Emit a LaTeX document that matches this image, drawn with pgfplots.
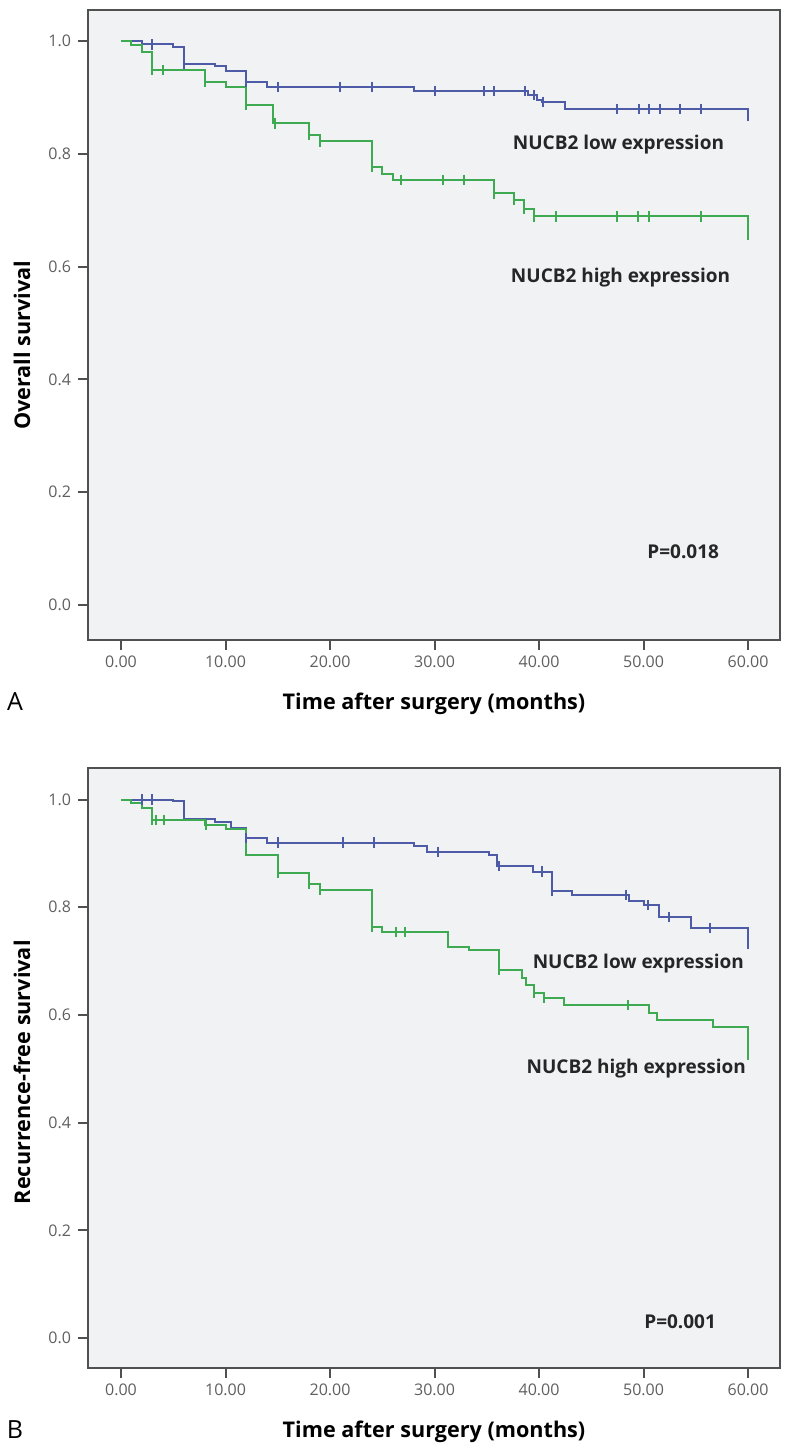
\documentclass[border=0pt]{standalone}
\usepackage{fontspec}
\setmainfont{Open Sans}
\usepackage{pgfplots}
\pgfplotsset{compat=1.18}
\definecolor{kmblue}{RGB}{78,92,168}
\definecolor{kmgreen}{RGB}{62,170,82}
\definecolor{framegray}{RGB}{80,80,80}
\definecolor{bggray}{RGB}{241,242,244}
\definecolor{tickgray}{RGB}{95,95,95}
\tikzset{annot/.style={font=\bfseries\fontsize{9.5}{11}\selectfont, text=black!85}}
\pgfplotsset{
  kmstyle/.style={
    scale only axis, width=346pt,
    xmin=-3.16, xmax=63.06,
    axis background/.style={fill=bggray},
    axis line style={framegray, line width=1.1pt},
    xtick={0,10,20,30,40,50,60}, ytick={0,0.2,0.4,0.6,0.8,1.0},
    xtick pos=left, ytick pos=left,
    tick align=outside, major tick length=5pt,
    tick style={framegray, line width=1pt},
    /pgf/number format/assume math mode=true,
    xticklabel={\pgfmathprintnumber[fixed,fixed zerofill,precision=2]{\tick}},
    yticklabel={\pgfmathprintnumber[fixed,fixed zerofill,precision=1]{\tick}},
    ticklabel style={font=\fontsize{8}{9}\selectfont, text=tickgray},
    xticklabel style={anchor=center, yshift=-6pt},
    yticklabel style={anchor=east},
    label style={font=\bfseries\fontsize{10.8}{12}\selectfont},
  },
  kmline/.style={const plot, line width=1pt, mark=none},
  kmcens/.style={only marks, mark=|, mark size=2.6pt, mark options={line width=1pt}},
}
\begin{document}
\begin{tikzpicture}
\useasboundingbox (0,0) rectangle (400pt,-724pt);
% ---------------- Panel A ----------------
\begin{axis}[kmstyle, at={(44pt,-320pt)}, anchor=south west, height=315pt,
  ymin=-0.062, ymax=1.055,
  xlabel={Time after surgery (months)},
  xlabel style={at={(axis description cs:0.5,0)}, anchor=center, yshift=-32pt},
  ylabel={Overall survival},
  ylabel style={at={(axis description cs:-0.0954,0.468)}, anchor=center},
]
\addplot[kmline, kmblue] coordinates {
(0,1.000) (2,0.994) (5,0.990) (6,0.960) (9,0.956) (10,0.946) (12,0.928) (14,0.919)
(28,0.911) (38.9,0.904) (39.8,0.895) (40.3,0.892) (42.5,0.880) (60,0.880) (60,0.867)};
\addplot[kmcens, kmblue] coordinates {
(3,0.994) (6,0.960) (12,0.928) (15,0.919) (21,0.919) (24,0.919) (30,0.911) (34.7,0.911)
(35.7,0.911) (38.7,0.911) (39.5,0.904) (40.4,0.892) (47.5,0.880) (49.6,0.880) (50.5,0.880)
(51.6,0.880) (53.5,0.880) (55.5,0.880) (60,0.867)};
\addplot[kmline, kmgreen] coordinates {
(0,1.000) (1,0.993) (2,0.981) (3,0.949) (8,0.928) (10,0.919) (12,0.887) (14.5,0.854)
(18,0.833) (19,0.822) (24,0.777) (25,0.765) (26,0.754) (35.7,0.730) (37.6,0.718)
(38.6,0.703) (39.5,0.689) (60,0.689) (60,0.656)};
\addplot[kmcens, kmgreen] coordinates {
(3,0.949) (4,0.949) (8,0.928) (12,0.887) (14.7,0.854) (18,0.833) (19,0.822) (24,0.777)
(26.8,0.754) (30.8,0.754) (32.8,0.754) (35.7,0.730) (37.6,0.718) (38.6,0.703) (39.5,0.689)
(41.6,0.689) (47.5,0.689) (49.5,0.689) (50.5,0.689) (55.5,0.689) (60,0.656)};
\node[annot] at (axis cs:47.6,0.816) {NUCB2 low expression};
\node[annot] at (axis cs:47.8,0.580) {NUCB2 high expression};
\node[annot] at (axis cs:53.8,0.094) {P=0.018};
\end{axis}
\node[font=\fontsize{12.5}{14}\selectfont] at (7.5pt,-351pt) {A};
% ---------------- Panel B ----------------
\begin{axis}[kmstyle, at={(44pt,-684pt)}, anchor=south west, height=300pt,
  ymin=-0.0557, ymax=1.0585,
  xlabel={Time after surgery (months)},
  xlabel style={at={(axis description cs:0.5,0)}, anchor=center, yshift=-32pt},
  ylabel={Recurrence-free survival},
  ylabel style={at={(axis description cs:-0.0954,0.493)}, anchor=center},
]
\addplot[kmline, kmblue] coordinates {
(0,1.000) (5,0.997) (6,0.963) (9,0.958) (10.5,0.948) (12,0.928) (14,0.920) (28,0.914)
(29.3,0.903) (35.2,0.897) (36,0.876) (39.4,0.866) (41.2,0.831) (43.2,0.823) (48.6,0.812)
(50,0.804) (51.5,0.782) (54.5,0.761) (60,0.761) (60,0.732)};
\addplot[kmcens, kmblue] coordinates {
(2,1.000) (3,1.000) (12,0.928) (15,0.920) (21.2,0.920) (24.2,0.920) (30.3,0.903)
(36.2,0.876) (40.3,0.866) (41.2,0.831) (48.3,0.823) (50.4,0.804) (52.4,0.782) (56.4,0.761)
(60,0.732)};
\addplot[kmline, kmgreen] coordinates {
(0,1.000) (1,0.993) (2,0.984) (3,0.962) (8,0.953) (10,0.945) (12,0.897) (15,0.863)
(18,0.844) (19,0.832) (24,0.764) (25,0.754) (31.3,0.727) (33.3,0.721) (36.2,0.683)
(38.4,0.668) (38.8,0.656) (39.5,0.641) (40.5,0.631) (42.4,0.618) (50.5,0.604) (51.3,0.591)
(56.6,0.578) (60,0.578) (60,0.526)};
\addplot[kmcens, kmgreen] coordinates {
(3,0.962) (3.3,0.962) (4.1,0.962) (8.1,0.953) (15,0.863) (18,0.844) (19,0.832) (24,0.764)
(26.3,0.754) (27.2,0.754) (36.2,0.683) (39.5,0.641) (40.5,0.631) (48.5,0.618) (60,0.526)};
\node[annot] at (axis cs:49.5,0.696) {NUCB2 low expression};
\node[annot] at (axis cs:49.3,0.501) {NUCB2 high expression};
\node[annot] at (axis cs:53.5,0.030) {P=0.001};
\end{axis}
\node[font=\fontsize{12.5}{14}\selectfont] at (7.5pt,-715pt) {B};
\end{tikzpicture}
\end{document}
